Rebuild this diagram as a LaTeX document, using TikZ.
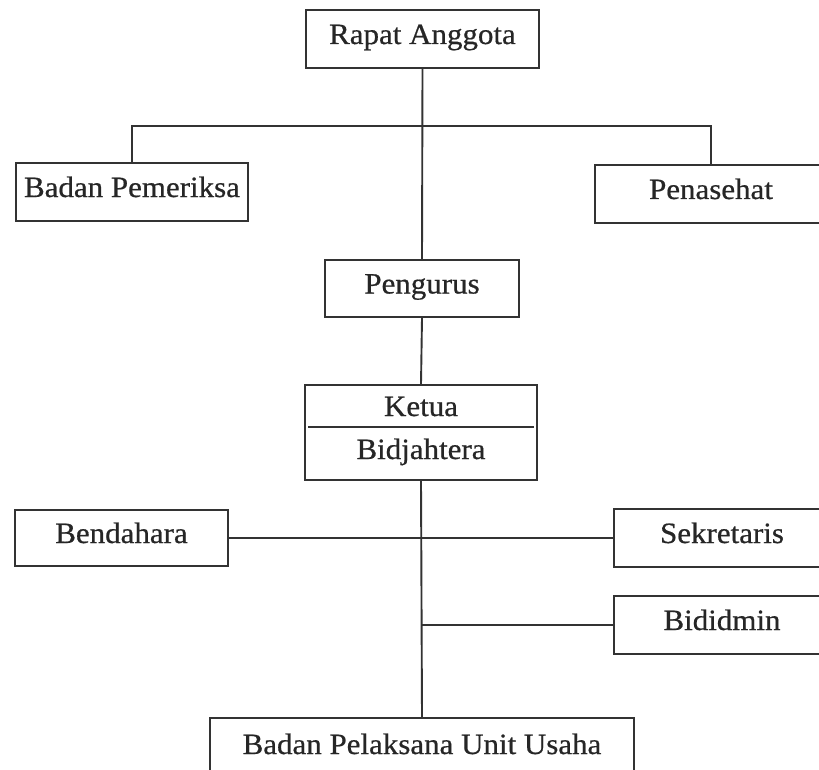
\documentclass[tikz,border=0pt]{standalone}
\usepackage{fontspec}
\setmainfont{Liberation Serif}[FakeStretch=1.05,FakeBold=0.6]
\usetikzlibrary{calc}
\definecolor{ink}{HTML}{333333}
\definecolor{txt}{HTML}{262626}
\begin{document}
\begin{tikzpicture}[x=1pt,y=-1pt,
  box/.style={draw=ink, line width=1.9pt, rectangle, inner sep=0pt,
    text=txt, font=\fontsize{29.5}{34}\selectfont,
    text height=20pt, text depth=10pt, align=center},
  lbl/.style={text=txt, font=\fontsize{29.5}{34}\selectfont, inner sep=0pt, anchor=base},
  conn/.style={draw=ink, line width=1.9pt}]
\useasboundingbox (0,0) rectangle (819,770);
\clip (0,0) rectangle (819,770);
\fill[white] (0,0) rectangle (819,770);

\node[box, minimum width=233pt, minimum height=58pt] (rapat) at (422.5,39) {Rapat Anggota};
\node[box, minimum width=232pt, minimum height=58pt] (bp) at (132,192) {Badan Pemeriksa};
\node[box, minimum width=232pt, minimum height=58pt] (pen) at (711,194) {Penasehat};
\node[box, minimum width=194pt, minimum height=57pt] (peng) at (422,288.5) {Pengurus};
\node[box, minimum width=232pt, minimum height=95pt] (ketua) at (421,432.5) {};
\node[lbl] (ketuaT) at (421,416) {Ketua};
\node[lbl] (bidj) at (421,459) {Bidjahtera};
\draw[conn] ($(ketua.west)+(4,-5.5)$) -- ($(ketua.east)+(-4,-5.5)$);
\node[box, minimum width=213pt, minimum height=56pt] (bend) at (121.5,538) {Bendahara};
\node[box, minimum width=216pt, minimum height=58pt] (sek) at (722,538) {Sekretaris};
\node[box, minimum width=216pt, minimum height=58pt] (bidi) at (722,625) {Bididmin};
\node[box, minimum width=424pt, minimum height=62pt] (pel) at (422,749) {Badan Pelaksana Unit Usaha};

\coordinate (j1) at (422,126);
\draw[conn] (rapat.south) -- (peng.north);
\draw[conn] (bp.north) |- (j1) -| (pen.north);
\draw[conn] (peng.south) -- (ketua.north);
\draw[conn] (ketua.south) -- (pel.north);
\draw[conn] (bend.east) -- (sek.west);
\draw[conn] (ketua.south |- bidi.west) -- (bidi.west);
\end{tikzpicture}
\end{document}
